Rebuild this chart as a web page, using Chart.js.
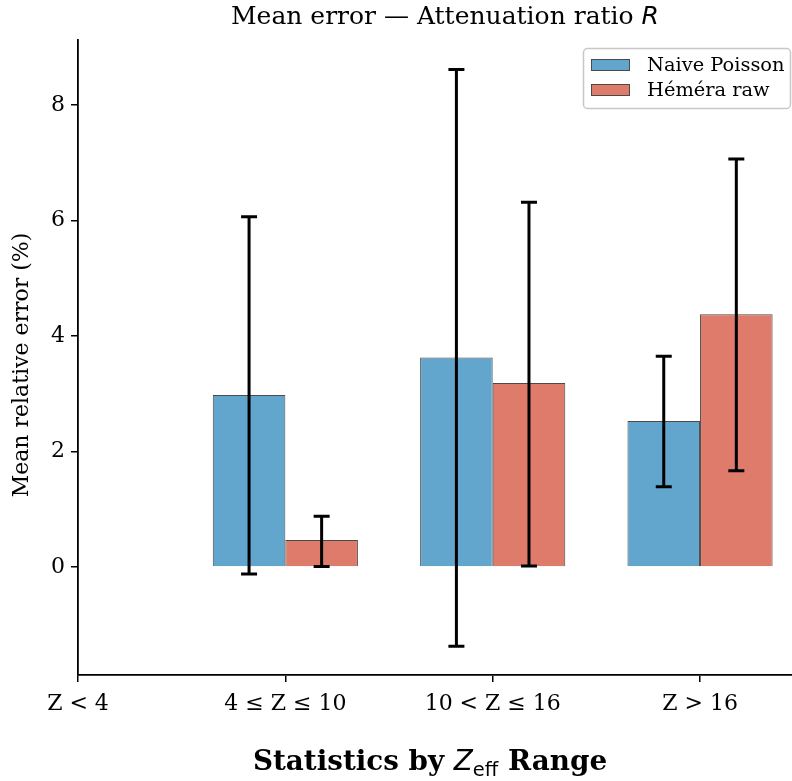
<!DOCTYPE html>
<html>
<head>
<meta charset="utf-8">
<script src="https://cdn.jsdelivr.net/npm/chart.js@4"></script>
<style>
  html, body { margin: 0; padding: 0; background: #fff; overflow: hidden; }
  #caixa { width: 812px; height: 781px; }
</style>
</head>
<body>
<div id="caixa"><canvas id="grafico" width="812" height="781"></canvas></div>
<script>
// Dados
const categorias = ["Z < 4", "4 ≤ Z ≤ 10", "10 < Z ≤ 16", "Z > 16"];
const posicoes = [0, 1, 2, 3];
const naive = [null, 2.98, 3.63, 2.53];
const naiveMin = [null, -0.12, -1.37, 1.39];
const naiveMax = [null, 6.07, 8.62, 3.65];
const hemera = [null, 0.47, 3.19, 4.38];
const hemeraMin = [null, 0.01, 0.02, 1.67];
const hemeraMax = [null, 0.88, 6.32, 7.07];
const yTicks = [0, 2, 4, 6, 8];

const SERIF = "'DejaVu Serif', serif";
const SANS = "'DejaVu Sans', sans-serif";

Chart.defaults.font.family = SERIF;
Chart.defaults.color = "#000";

const ctx = document.getElementById("grafico").getContext("2d");

// Barras de erro
const barrasErro = {
  id: "barrasErro",
  afterDatasetsDraw(chart) {
    const c = chart.ctx;
    const y = chart.scales.y;
    chart.data.datasets.forEach((ds, di) => {
      const meta = chart.getDatasetMeta(di);
      meta.data.forEach((bar, i) => {
        const lo = ds.erroMin[i];
        const hi = ds.erroMax[i];
        if (lo == null || hi == null) return;
        const y1 = y.getPixelForValue(lo);
        const y2 = y.getPixelForValue(hi);
        c.save();
        c.strokeStyle = "#000";
        c.lineWidth = 3;
        c.beginPath();
        c.moveTo(bar.x, y1);
        c.lineTo(bar.x, y2);
        c.moveTo(bar.x - 8, y1);
        c.lineTo(bar.x + 8, y1);
        c.moveTo(bar.x - 8, y2);
        c.lineTo(bar.x + 8, y2);
        c.stroke();
        c.restore();
      });
    });
  },
};

// Títulos e legenda
const textos = {
  id: "textos",
  afterDraw(chart) {
    const c = chart.ctx;
    const area = chart.chartArea;
    c.save();
    c.fillStyle = "#000";
    c.textBaseline = "alphabetic";

    // título
    const t1 = "Mean error — Attenuation ratio ";
    c.font = "25px " + SERIF;
    const w1 = c.measureText(t1).width;
    c.font = "italic 25px " + SANS;
    const w2 = c.measureText("R").width;
    let x = (area.left + area.right) / 2 - (w1 + w2) / 2;
    c.textAlign = "left";
    c.font = "25px " + SERIF;
    c.fillText(t1, x, 24);
    c.font = "italic 25px " + SANS;
    c.fillText("R", x + w1, 24);

    // rótulo do eixo x
    const partes = [
      { t: "Statistics by ", f: "bold 27.8px " + SERIF, dy: 0 },
      { t: "Z", f: "italic 27.8px " + SANS, dy: 0 },
      { t: "eff", f: "19.5px " + SANS, dy: 6 },
      { t: " Range", f: "bold 27.8px " + SERIF, dy: 0 },
    ];
    let total = 0;
    partes.forEach((p) => { c.font = p.f; p.w = c.measureText(p.t).width; total += p.w; });
    x = 430 - total / 2;
    partes.forEach((p) => {
      c.font = p.f;
      c.fillText(p.t, x, 770 + p.dy);
      x += p.w;
    });

    // rótulo do eixo y
    c.save();
    c.translate(22, 365);
    c.rotate(-Math.PI / 2);
    c.textAlign = "center";
    c.textBaseline = "middle";
    c.font = "22px " + SERIF;
    c.fillText("Mean relative error (%)", 0, 0);
    c.restore();

    // legenda
    c.fillStyle = "rgba(255,255,255,0.8)";
    c.strokeStyle = "#c8c8c8";
    c.lineWidth = 1.5;
    c.beginPath();
    c.roundRect(583.5, 48.5, 207, 60, 4);
    c.fill();
    c.stroke();
    chart.data.datasets.forEach((ds, i) => {
      const yy = 59 + i * 25;
      c.fillStyle = ds.backgroundColor;
      c.fillRect(591, yy, 39, 12);
      c.strokeStyle = ds.borderColor;
      c.lineWidth = 1;
      c.strokeRect(591.5, yy + 0.5, 38, 11);
      c.fillStyle = "#000";
      c.font = "19.4px " + SERIF;
      c.textAlign = "left";
      c.fillText(ds.label, 647, yy + 12);
    });
    c.restore();
  },
};

new Chart(ctx, {
  type: "bar",
  data: {
    datasets: [
      {
        label: "Naive Poisson",
        data: posicoes.map((p, i) => ({ x: p, y: naive[i] })),
        erroMin: naiveMin,
        erroMax: naiveMax,
        backgroundColor: "#62A6CD",
        borderColor: "#4a4a4a",
        borderWidth: 1,
      },
      {
        label: "Héméra raw",
        data: posicoes.map((p, i) => ({ x: p, y: hemera[i] })),
        erroMin: hemeraMin,
        erroMax: hemeraMax,
        backgroundColor: "#DE7B6B",
        borderColor: "#4a4a4a",
        borderWidth: 1,
      },
    ],
  },
  options: {
    responsive: false,
    animation: false,
    layout: { padding: { top: 40, left: 0, right: 0, bottom: 0 } },
    datasets: { bar: { categoryPercentage: 0.7, barPercentage: 1.0 } },
    plugins: { legend: { display: false }, title: { display: false }, tooltip: { enabled: false } },
    scales: {
      x: {
        type: "linear",
        min: 0,
        max: 3.54,
        offset: false,
        afterBuildTicks: (s) => { s.ticks = posicoes.map((v) => ({ value: v })); },
        afterFit: (s) => { s.height = 106; },
        grid: { offset: false, drawOnChartArea: false, drawTicks: true, tickLength: 7, color: "#000", lineWidth: 1.5 },
        border: { display: true, color: "#000", width: 1.8 },
        ticks: {
          font: { size: 22 },
          color: "#000",
          padding: 9,
          maxRotation: 0,
          autoSkip: false,
          callback: (v, i) => categorias[i],
        },
      },
      y: {
        min: -1.87,
        max: 9.13,
        afterBuildTicks: (s) => { s.ticks = yTicks.map((v) => ({ value: v })); },
        afterFit: (s) => { s.width = 78; },
        grid: { drawOnChartArea: false, drawTicks: true, tickLength: 7, color: "#000", lineWidth: 1.5 },
        border: { display: true, color: "#000", width: 1.8 },
        ticks: { font: { size: 22 }, color: "#000", padding: 6 },
      },
    },
  },
  plugins: [barrasErro, textos],
});
</script>
</body>
</html>
